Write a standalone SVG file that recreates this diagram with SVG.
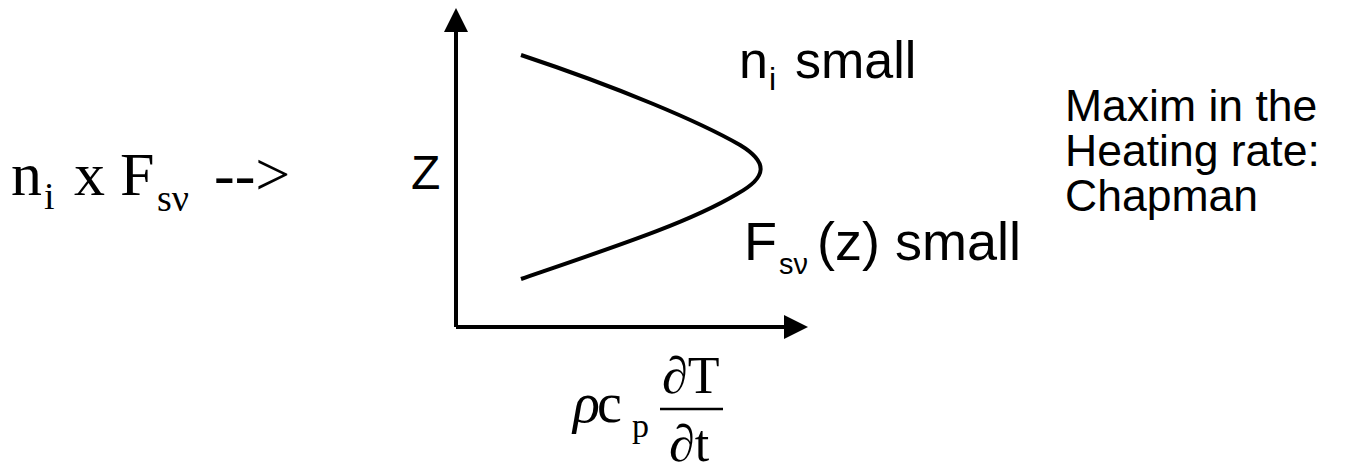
<svg xmlns="http://www.w3.org/2000/svg" width="1351" height="463" viewBox="0 0 1351 463">
<style>
.serif{font-family:"Liberation Serif","Times New Roman",serif;fill:#000}
.sans{font-family:"Liberation Sans",Arial,sans-serif;fill:#000}
.ax{stroke:#000;stroke-width:4;fill:none}
</style>
<rect width="1351" height="463" fill="#fff"/>
<g id="connectors">
<path class="ax" d="M456,327 V32"/>
<path d="M444,32 L456,8 L468,32 Z" fill="#000"/>
<path class="ax" d="M456,327 H784"/>
<path d="M784,315 L808,327 L784,339 Z" fill="#000"/>
<path class="ax" stroke-width="3.5" d="M521,55 C620,88 700,122 740,145 C768,162 768,177 737,194 C690,222 620,245 521,279"/>
</g>
<g id="left-label">
<text class="serif" font-size="62" y="195"><tspan x="11">n</tspan><tspan x="44" y="209" font-size="38">i</tspan><tspan x="74" y="195">x</tspan><tspan x="120">F</tspan><tspan x="157" y="211" font-size="38">sν</tspan><tspan x="214" y="195">--&gt;</tspan></text>
</g>
<g id="z-axis-label">
<text class="sans" font-size="48" x="411" y="189">Z</text>
</g>
<g id="ni-small">
<text class="sans" font-size="52" y="78"><tspan x="739">n</tspan><tspan x="769" y="90" font-size="32">i</tspan><tspan x="795" y="78">small</tspan></text>
</g>
<g id="fsv-small">
<text class="sans" font-size="54" y="260"><tspan x="744">F</tspan><tspan x="779" y="274" font-size="29">sν</tspan><tspan x="817" y="260">(z) small</tspan></text>
</g>
<g id="maxim">
<text class="sans" font-size="44.5" x="1065"><tspan x="1065" y="121">Maxim in the</tspan><tspan x="1065" y="166">Heating rate:</tspan><tspan x="1065" y="211">Chapman</tspan></text>
</g>
<g id="x-axis-label">
<text class="serif" font-size="56" font-style="italic" x="573" y="422">ρ</text>
<text class="serif" font-size="56" x="597" y="422">c</text>
<text class="serif" font-size="34" x="632" y="437">p</text>
<text class="serif" font-size="52" x="662" y="393">∂T</text>
<line x1="660" y1="409" x2="723" y2="409" stroke="#000" stroke-width="2.5"/>
<text class="serif" font-size="52" x="669" y="461">∂t</text>
</g>
</svg>
